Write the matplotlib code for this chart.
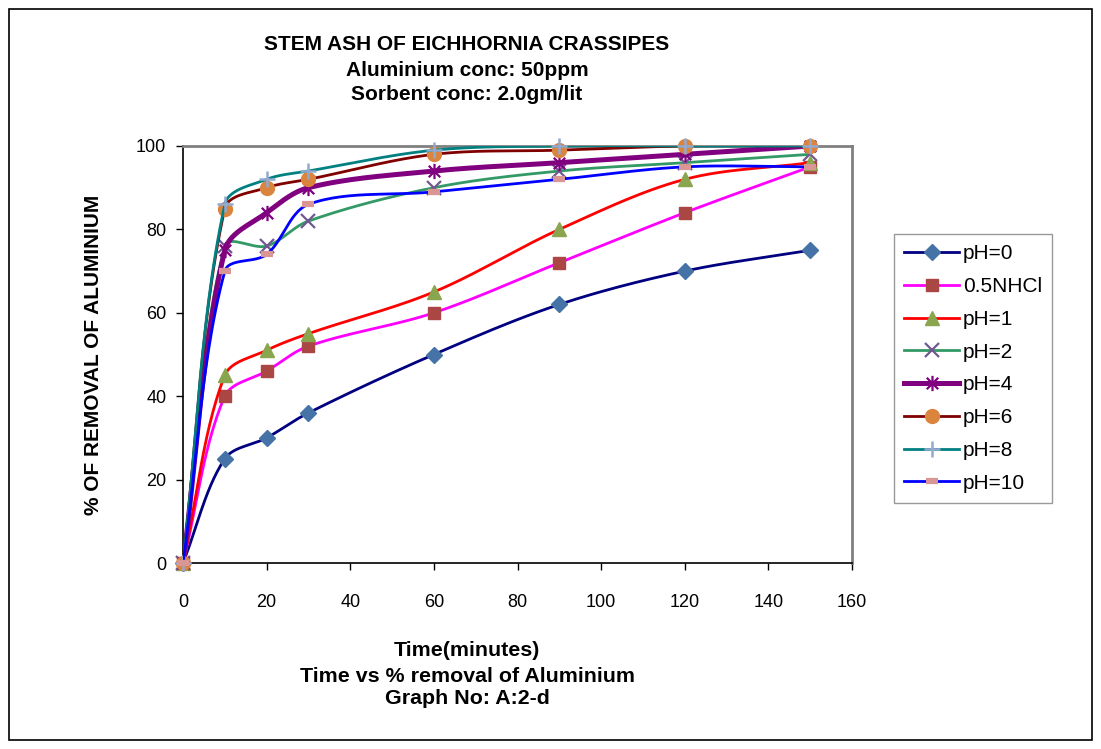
import matplotlib
matplotlib.use("Agg")
import matplotlib.pyplot as plt
import numpy as np
from matplotlib.path import Path
from matplotlib.patches import Rectangle

plt.rcParams["font.family"] = ["Liberation Sans", "DejaVu Sans"]

# ---------------------------------------------------------
# Data
# ---------------------------------------------------------
time_min = [0, 10, 20, 30, 60, 90, 120, 150]

labels = ["pH=0", "0.5NHCl", "pH=1", "pH=2", "pH=4", "pH=6", "pH=8", "pH=10"]

ph0 = [0, 25, 30, 36, 50, 62, 70, 75]
nhcl = [0, 40, 46, 52, 60, 72, 84, 95]
ph1 = [0, 45, 51, 55, 65, 80, 92, 96]
ph2 = [0, 76, 76, 82, 90, 94, 96, 98]
ph4 = [0, 75, 84, 90, 94, 96, 98, 100]
ph6 = [0, 85, 90, 92, 98, 99, 100, 100]
ph8 = [0, 86, 92, 94, 99, 100, 100, 100]
ph10 = [0, 70, 74, 86, 89, 92, 95, 95]

series = [ph0, nhcl, ph1, ph2, ph4, ph6, ph8, ph10]

title_lines = ["STEM ASH OF EICHHORNIA CRASSIPES", "Aluminium conc: 50ppm", "Sorbent conc: 2.0gm/lit"]
footer_lines = ["Time(minutes)", "Time vs % removal of Aluminium", "Graph No: A:2-d"]

# ---------------------------------------------------------
# Styles
# ---------------------------------------------------------
star = Path(
    [(0, -1), (0, 1), (-0.75, -0.75), (0.75, 0.75), (-0.75, 0.75), (0.75, -0.75)],
    [Path.MOVETO, Path.LINETO] * 3,
)

styles = [
    dict(color="#000080", lw=2.0, marker="D", ms=8, mfc="#4572A7", mec="#4572A7"),
    dict(color="#FF00FF", lw=2.0, marker="s", ms=9, mfc="#AA4643", mec="#AA4643"),
    dict(color="#FF0000", lw=2.0, marker="^", ms=10, mfc="#89A54E", mec="#89A54E"),
    dict(color="#339966", lw=2.0, marker="x", ms=10, mfc="none", mec="#71588F", mew=1.6),
    dict(color="#800080", lw=3.6, marker=star, ms=11, mfc="none", mec="#800080", mew=1.6),
    dict(color="#800000", lw=2.0, marker="o", ms=10, mfc="#DB843D", mec="#DB843D"),
    dict(color="#008080", lw=2.0, marker="+", ms=11, mfc="none", mec="#93A9CF", mew=1.8),
    dict(color="#0000FF", lw=2.0, marker="_", ms=8, mfc="none", mec="#D99694", mew=4.5),
]


def smooth_curve(x, y, n=30):
    # smoothed line through the points, chord-length scaled Bezier handles
    pts = np.column_stack([np.asarray(x, float), np.asarray(y, float)])
    m = len(pts)
    tang = np.zeros_like(pts)
    for i in range(m):
        prev = pts[max(i - 1, 0)]
        nxt = pts[min(i + 1, m - 1)]
        tang[i] = nxt - prev
    seglen = np.linalg.norm(np.diff(pts, axis=0), axis=1)
    out = [pts[0]]
    t = np.linspace(0, 1, n)[1:, None]
    for i in range(m - 1):
        p0, p3 = pts[i], pts[i + 1]
        lp = seglen[i - 1] if i > 0 else 0.0
        ln = seglen[i + 1] if i + 1 < m - 1 else 0.0
        s = seglen[i]
        c1 = p0 + tang[i] * s / (3.0 * (lp + s))
        c2 = p3 - tang[i + 1] * s / (3.0 * (s + ln))
        seg = ((1 - t) ** 3) * p0 + 3 * ((1 - t) ** 2) * t * c1 + 3 * (1 - t) * t ** 2 * c2 + t ** 3 * p3
        out.extend(seg)
    out = np.array(out)
    return out[:, 0], out[:, 1]


fig = plt.figure(figsize=(11.01, 7.49), dpi=100)
ax = fig.add_axes([183 / 1101, 1 - 563 / 749, (852 - 183) / 1101, (563 - 146) / 749])

handles = []
for k, (vals, st, lab) in enumerate(zip(series, styles, labels)):
    sx, sy = smooth_curve(time_min, vals)
    ax.plot(sx, sy, color=st["color"], lw=st["lw"], zorder=2 + 2 * k, solid_capstyle="round")
    ax.plot(
        time_min, vals, ls="none", marker=st["marker"], ms=st["ms"],
        mfc=st["mfc"], mec=st["mec"], mew=st.get("mew", 1.0), zorder=3 + 2 * k,
        clip_on=False,
    )
    h, = ax.plot(
        [], [], color=st["color"], lw=st["lw"], marker=st["marker"], ms=st["ms"],
        mfc=st["mfc"], mec=st["mec"], mew=st.get("mew", 1.0), label=lab,
    )
    handles.append(h)

ax.set_xlim(0, 160)
ax.set_ylim(0, 100)
ax.set_xticks(np.arange(0, 161, 20))
ax.set_yticks(np.arange(0, 101, 20))
ax.tick_params(axis="both", direction="out", length=5, width=1, labelsize=13)
ax.tick_params(axis="x", pad=17)
ax.tick_params(axis="y", pad=7)

for side in ["top", "right"]:
    ax.spines[side].set_color("#808080")
    ax.spines[side].set_linewidth(2)
for side in ["left", "bottom"]:
    ax.spines[side].set_color("black")
    ax.spines[side].set_linewidth(1.2)

ax.set_ylabel("% OF REMOVAL OF ALUMINIUM", fontsize=15, fontweight="bold", labelpad=24)

for line, yy in zip(title_lines, [44, 70, 95]):
    fig.text(467 / 1101, 1 - yy / 749, line, ha="center", va="center",
             fontsize=15, fontweight="bold")

for line, yy in zip(footer_lines, [650, 676, 699]):
    fig.text(467 / 1101, 1 - yy / 749, line, ha="center", va="center",
             fontsize=15.4, fontweight="bold")

leg = fig.legend(
    handles=handles, loc="upper left", bbox_to_anchor=(894 / 1101, 1 - 234 / 749),
    frameon=True, fancybox=False, edgecolor="#808080", fontsize=15,
    handlelength=2.6, handletextpad=0.2, labelspacing=0.66, borderpad=0.5,
    borderaxespad=0,
)
leg.get_frame().set_linewidth(1.0)

fig.patches.append(Rectangle((9 / 1101, 9 / 749), (1092 - 9) / 1101, (740 - 9) / 749,
                             transform=fig.transFigure, fill=False, edgecolor="black", lw=1.2))

fig.savefig("out.png", dpi=100)
